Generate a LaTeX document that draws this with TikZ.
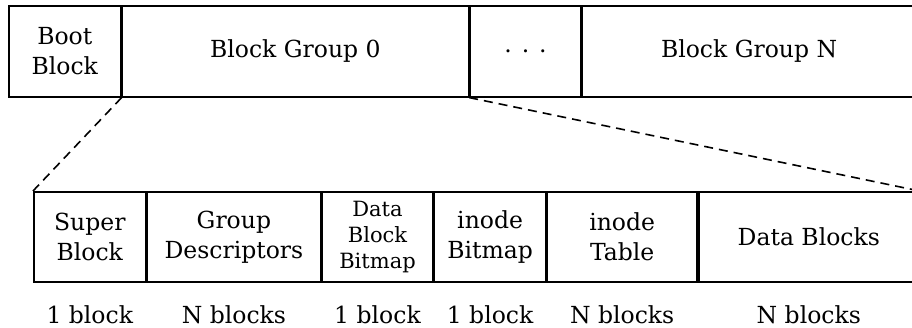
\documentclass[tikz,border=0pt]{standalone}
\usepackage{fontspec}
\setmainfont{DejaVu Serif}
\usepackage{tikz}
\usetikzlibrary{positioning}

\begin{document}
\begin{tikzpicture}[x=1pt,y=1pt,node distance=0pt,font=\fontsize{23.5}{30}\selectfont]
    \tikzstyle{cell}=[shape=rectangle,draw,line width=1.6pt,minimum height=91pt,anchor=north west,align=center,inner sep=0pt]
    \tikzstyle{size}=[anchor=base]
    \useasboundingbox (0,0) rectangle (912,-328);

    % disk layout
    \node[cell,minimum width=112pt] (boot) at (8,-5) {Boot\\Block};
    \node[cell,minimum width=346pt] (bg0) at (boot.north east) {Block Group 0};
    \node[cell,minimum width=111pt] (dots) at (bg0.north east) {. . .};
    \node[cell,minimum width=333pt] (bgn) at (dots.north east) {Block Group N};

    % one block group
    \node[cell,minimum width=112pt,minimum height=90pt] (sb) at (33,-191) {Super\\Block};
    \node[cell,minimum width=173pt,minimum height=90pt] (gd) at (sb.north east) {Group\\Descriptors};
    \node[cell,minimum width=111pt,minimum height=90pt,font=\fontsize{21}{26}\selectfont] (dbb) at (gd.north east) {Data\\Block\\Bitmap};
    \node[cell,minimum width=111pt,minimum height=90pt] (ib) at (dbb.north east) {inode\\Bitmap};
    \node[cell,minimum width=150pt,minimum height=90pt] (it) at (ib.north east) {inode\\Table};
    \node[cell,minimum width=220pt,minimum height=90pt] (db) at (it.north east) {Data Blocks};

    \node[size,below=41pt of sb.south,anchor=base] (sbn) {1 block};
    \node[size,below=41pt of gd.south,anchor=base] (gdn) {N blocks};
    \node[size,below=41pt of dbb.south,anchor=base] (dbbn) {1 block};
    \node[size,below=41pt of ib.south,anchor=base] (ibn) {1 block};
    \node[size,below=41pt of it.south,anchor=base] (itn) {N blocks};
    \node[size,below=41pt of db.south,anchor=base] (dbn) {N blocks};

    \draw[dash pattern=on 9pt off 6pt, line width=1.6pt] (bg0.south west) -- (sb.north west);
    \draw[dash pattern=on 9pt off 6pt, line width=1.6pt] (dots.south west) -- (db.north east);

\end{tikzpicture}
\end{document}
